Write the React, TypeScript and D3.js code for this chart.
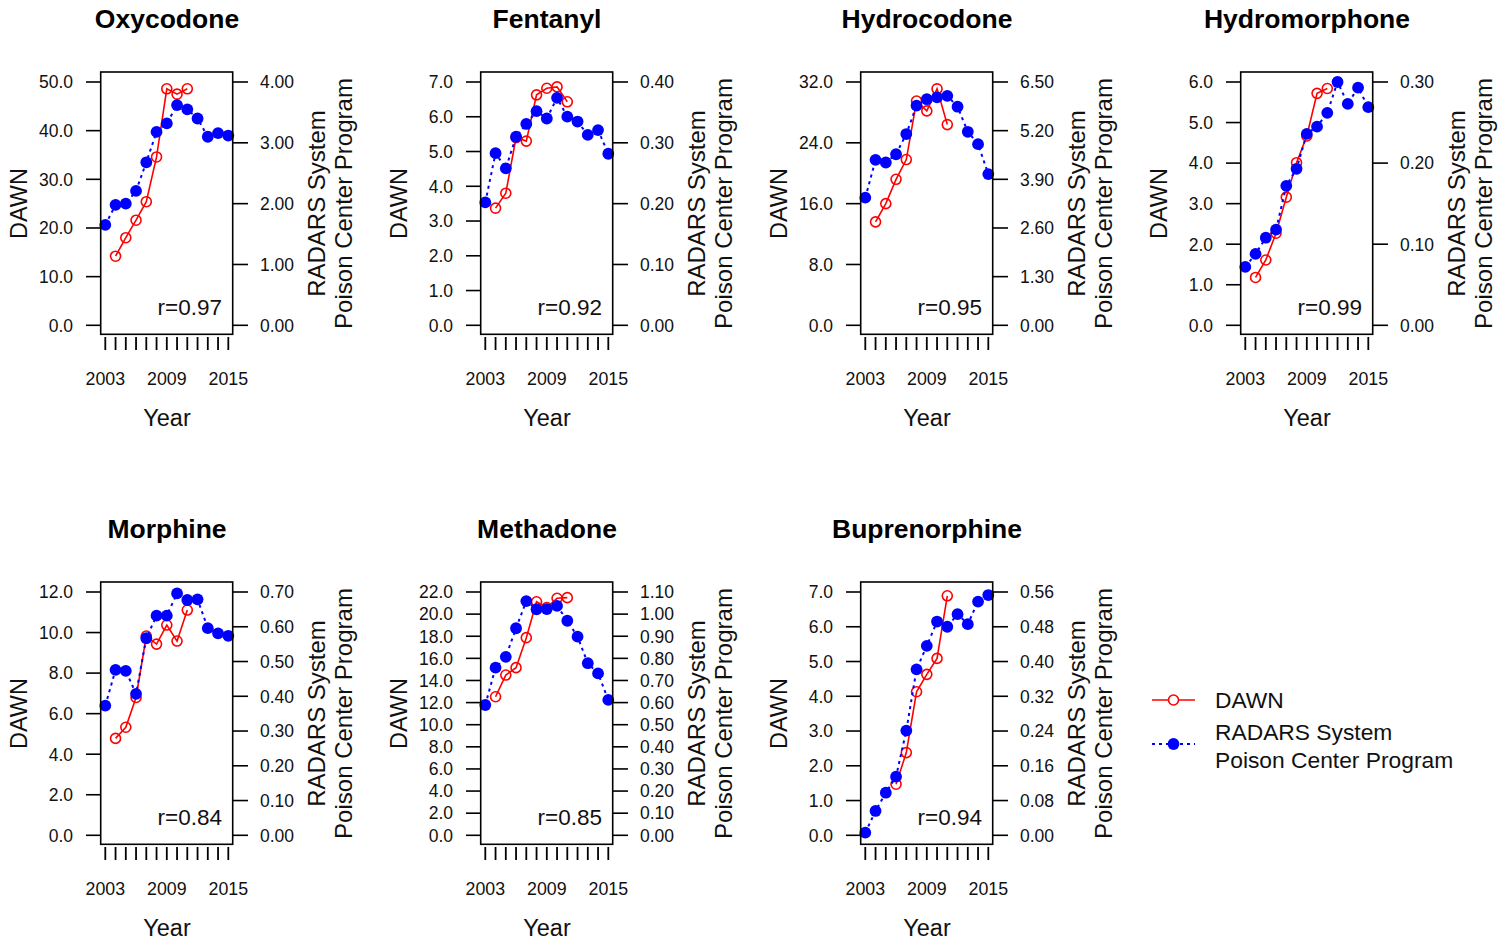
import React from 'react';
import * as d3 from 'd3';

// years on the x axis, only some get labels
const years = [2003, 2004, 2005, 2006, 2007, 2008, 2009, 2010, 2011, 2012, 2013, 2014, 2015];
const yearLabels = [2003, 2009, 2015];

const drugNames = ['Oxycodone', 'Fentanyl', 'Hydrocodone', 'Hydromorphone', 'Morphine', 'Methadone', 'Buprenorphine'];
const correlations = ['0.97', '0.92', '0.95', '0.99', '0.84', '0.85', '0.94'];

// DAWN series (left axis), null where no data
const dawnOxycodone = [null, 14.2, 18.0, 21.6, 25.4, 34.6, 48.6, 47.5, 48.6, null, null, null, null];
const dawnFentanyl = [null, 3.37, 3.8, 5.4, 5.3, 6.63, 6.82, 6.86, 6.43, null, null, null, null];
const dawnHydrocodone = [null, 13.6, 16.0, 19.2, 21.8, 29.5, 28.2, 31.1, 26.4, null, null, null, null];
const dawnHydromorphone = [null, 1.18, 1.61, 2.27, 3.16, 4.01, 4.67, 5.72, 5.84, null, null, null, null];
const dawnMorphine = [null, 4.78, 5.33, 6.8, 9.83, 9.43, 10.37, 9.58, 11.11, null, null, null, null];
const dawnMethadone = [null, 12.53, 14.49, 15.16, 17.87, 21.12, 20.6, 21.43, 21.49, null, null, null, null];
const dawnBuprenorphine = [null, null, null, 1.47, 2.38, 4.13, 4.63, 5.09, 6.89, null, null, null, null];

// RADARS System Poison Center Program series (right axis)
const radarsOxycodone = [1.65, 1.98, 2.0, 2.21, 2.68, 3.18, 3.32, 3.62, 3.55, 3.4, 3.1, 3.16, 3.12];
const radarsFentanyl = [0.202, 0.283, 0.258, 0.31, 0.331, 0.352, 0.34, 0.374, 0.343, 0.335, 0.313, 0.321, 0.282];
const radarsHydrocodone = [3.41, 4.42, 4.35, 4.57, 5.11, 5.87, 6.04, 6.09, 6.13, 5.84, 5.17, 4.84, 4.04];
const radarsHydromorphone = [0.072, 0.088, 0.108, 0.118, 0.172, 0.193, 0.236, 0.245, 0.262, 0.3, 0.273, 0.293, 0.269];
const radarsMorphine = [0.373, 0.476, 0.473, 0.407, 0.567, 0.632, 0.632, 0.696, 0.677, 0.679, 0.596, 0.581, 0.574];
const radarsMethadone = [0.589, 0.758, 0.807, 0.936, 1.059, 1.022, 1.023, 1.037, 0.97, 0.898, 0.778, 0.732, 0.612];
const radarsBuprenorphine = [0.006, 0.056, 0.098, 0.135, 0.241, 0.382, 0.436, 0.492, 0.48, 0.509, 0.486, 0.538, 0.553];

// tick values for both y axes
const dawnTicks = [
  [0, 10, 20, 30, 40, 50],
  [0, 1, 2, 3, 4, 5, 6, 7],
  [0, 8, 16, 24, 32],
  [0, 1, 2, 3, 4, 5, 6],
  [0, 2, 4, 6, 8, 10, 12],
  [0, 2, 4, 6, 8, 10, 12, 14, 16, 18, 20, 22],
  [0, 1, 2, 3, 4, 5, 6, 7],
];
const radarsTicks = [
  [0, 1, 2, 3, 4],
  [0, 0.1, 0.2, 0.3, 0.4],
  [0, 1.3, 2.6, 3.9, 5.2, 6.5],
  [0, 0.1, 0.2, 0.3],
  [0, 0.1, 0.2, 0.3, 0.4, 0.5, 0.6, 0.7],
  [0, 0.1, 0.2, 0.3, 0.4, 0.5, 0.6, 0.7, 0.8, 0.9, 1.0, 1.1],
  [0, 0.08, 0.16, 0.24, 0.32, 0.4, 0.48, 0.56],
];

const dawnSeries = [dawnOxycodone, dawnFentanyl, dawnHydrocodone, dawnHydromorphone, dawnMorphine, dawnMethadone, dawnBuprenorphine];
const radarsSeries = [radarsOxycodone, radarsFentanyl, radarsHydrocodone, radarsHydromorphone, radarsMorphine, radarsMethadone, radarsBuprenorphine];

const FONT = '"Liberation Sans", Arial, Helvetica, sans-serif';
const RED = '#ff0000';
const BLUE = '#0000ff';
const INK = '#111';

const box = { left: 100.7, right: 232.7, top: 72, bottom: 334.3 };

function Panel({ index }: { index: number }) {
  const col = index % 4;
  const row = Math.floor(index / 4);
  const ox = col * 380;
  const oy = row * 510;

  const lTicks = dawnTicks[index];
  const rTicks = radarsTicks[index];

  const x = d3.scaleLinear().domain([2003, 2015]).range([105.3, 228.3]);
  const yLeft = d3.scaleLinear().domain([0, d3.max(lTicks) as number]).range([325.3, 82]);
  const yRight = d3.scaleLinear().domain([0, d3.max(rTicks) as number]).range([325.3, 82]);

  const dawnPts = years.map((yr, i) => ({ yr, v: dawnSeries[index][i] })).filter((d) => d.v !== null) as { yr: number; v: number }[];
  const radarsPts = years.map((yr, i) => ({ yr, v: radarsSeries[index][i] }));

  const dawnLine = d3.line<{ yr: number; v: number }>().x((d) => x(d.yr)).y((d) => yLeft(d.v));
  const radarsLine = d3.line<{ yr: number; v: number }>().x((d) => x(d.yr)).y((d) => yRight(d.v));

  return (
    <g transform={`translate(${ox},${oy})`}>
      <text x={167} y={28} textAnchor="middle" fontSize={26.5} fontWeight="bold" fill="#000">
        {drugNames[index]}
      </text>

      {/* DAWN first, RADARS drawn on top */}
      <path d={dawnLine(dawnPts) || ''} fill="none" stroke={RED} strokeWidth={1.6} />
      {dawnPts.map((d) => (
        <circle key={'d' + d.yr} cx={x(d.yr)} cy={yLeft(d.v)} r={5} fill="none" stroke={RED} strokeWidth={1.6} />
      ))}
      <path d={radarsLine(radarsPts) || ''} fill="none" stroke={BLUE} strokeWidth={2} strokeDasharray="3,4" />
      {radarsPts.map((d) => (
        <circle key={'r' + d.yr} cx={x(d.yr)} cy={yRight(d.v)} r={5.9} fill={BLUE} />
      ))}

      <rect x={box.left} y={box.top} width={box.right - box.left} height={box.bottom - box.top} fill="none" stroke="#000" strokeWidth={1.6} />

      {/* left axis */}
      {lTicks.map((t) => (
        <g key={'l' + t}>
          <line x1={86} x2={box.left} y1={yLeft(t)} y2={yLeft(t)} stroke="#000" strokeWidth={1.6} />
          <text x={73} y={yLeft(t)} dy="0.36em" textAnchor="end" fontSize={17.5} fill={INK}>
            {t.toFixed(1)}
          </text>
        </g>
      ))}

      {/* right axis */}
      {rTicks.map((t) => (
        <g key={'r' + t}>
          <line x1={box.right} x2={248} y1={yRight(t)} y2={yRight(t)} stroke="#000" strokeWidth={1.6} />
          <text x={260} y={yRight(t)} dy="0.36em" textAnchor="start" fontSize={17.5} fill={INK}>
            {t.toFixed(2)}
          </text>
        </g>
      ))}

      {/* x axis: ticks every year, labels every 6 */}
      {years.map((yr) => (
        <line key={'x' + yr} x1={x(yr)} x2={x(yr)} y1={337} y2={350} stroke="#000" strokeWidth={1.8} />
      ))}
      {yearLabels.map((yr) => (
        <text key={'xl' + yr} x={x(yr)} y={384.5} textAnchor="middle" fontSize={17.8} fill={INK}>
          {yr}
        </text>
      ))}

      <text x={167} y={426} textAnchor="middle" fontSize={23.5} fill={INK}>Year</text>
      <text transform="translate(27,203.5) rotate(-90)" textAnchor="middle" fontSize={23.5} fill={INK}>DAWN</text>
      <text transform="translate(325,203.5) rotate(-90)" textAnchor="middle" fontSize={24} fill={INK}>RADARS System</text>
      <text transform="translate(352,203.5) rotate(-90)" textAnchor="middle" fontSize={24} fill={INK}>Poison Center Program</text>

      <text x={222} y={315} textAnchor="end" fontSize={22.5} fill={INK}>r={correlations[index]}</text>
    </g>
  );
}

function Legend() {
  return (
    <g>
      <line x1={1152} x2={1195} y1={700} y2={700} stroke={RED} strokeWidth={1.6} />
      <circle cx={1173.5} cy={700} r={5} fill="#fff" stroke={RED} strokeWidth={1.6} />
      <text x={1215} y={707.5} fontSize={22.8} fill={INK}>DAWN</text>
      <line x1={1152} x2={1195} y1={744} y2={744} stroke={BLUE} strokeWidth={2} strokeDasharray="3,4" />
      <circle cx={1173.5} cy={744} r={5.9} fill={BLUE} />
      <text x={1215} y={739.5} fontSize={22.8} fill={INK}>RADARS System</text>
      <text x={1215} y={767.5} fontSize={22.8} fill={INK}>Poison Center Program</text>
    </g>
  );
}

export default function App() {
  return (
    <svg
      width={1505}
      height={941}
      style={{ position: 'absolute', left: 0, top: 0, background: '#fff', fontFamily: FONT }}
    >
      <rect width={1505} height={941} fill="#fff" />
      {drugNames.map((name, i) => (
        <Panel key={name} index={i} />
      ))}
      <Legend />
    </svg>
  );
}
